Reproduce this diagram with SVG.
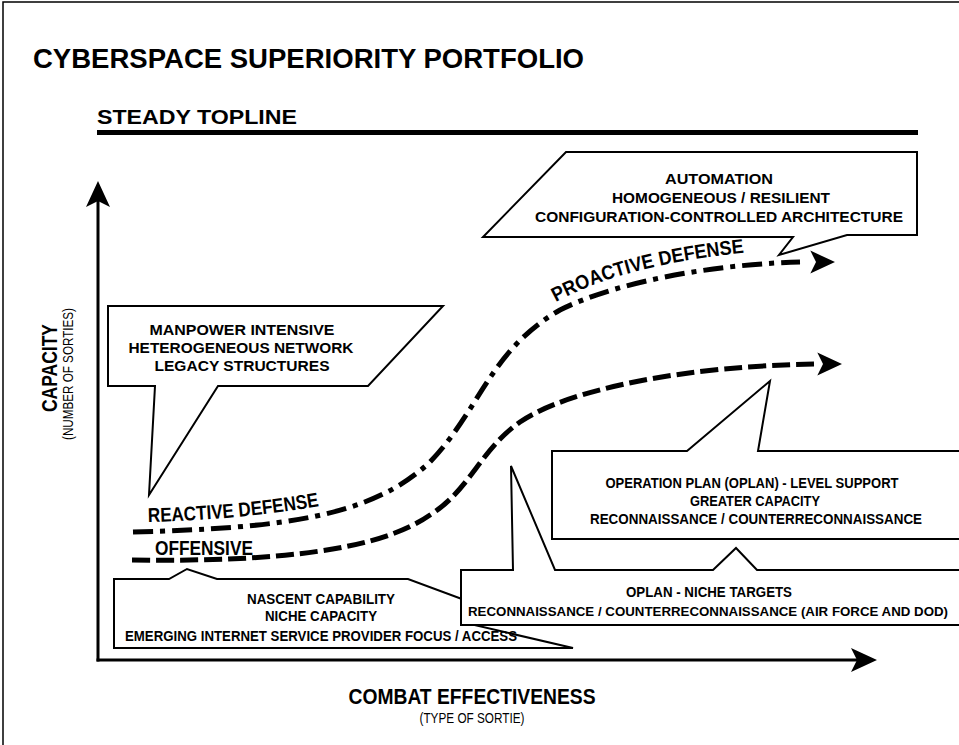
<svg xmlns="http://www.w3.org/2000/svg" xmlns:xlink="http://www.w3.org/1999/xlink" width="959" height="745" viewBox="0 0 959 745">
<style>
  .b{font-family:"Liberation Sans","Open Sans",Arial,sans-serif;font-weight:700;fill:#000}
  .r{font-family:"Liberation Sans","Open Sans",Arial,sans-serif;font-weight:400;fill:#000}
  .c{text-anchor:middle}
  .box{fill:#fff;stroke:#000;stroke-width:2;stroke-linejoin:miter}
  .axis{stroke:#000;stroke-width:3;fill:none}
  .dash{fill:none;stroke:#000;stroke-width:5;stroke-dasharray:18 6}
  .dashdot{fill:none;stroke:#000;stroke-width:5;stroke-dasharray:20 7 5 7}
  .t13{font-size:13px}
  .t14{font-size:14px}
  .t15{font-size:15px}
</style>
<defs>
  <path id="ah" d="M0,0 L-26,-12 L-20,0 L-26,12 Z" fill="#000"/>
  <path id="reactivePath" d="M148,522 Q240,520 326,505"/>
  <path id="proactivePath" d="M556,302 Q625,264 752,252"/>
</defs>

<rect width="959" height="745" fill="#fff"/>
<path d="M3,745 L3,2 L959,2" fill="none" stroke="#000" stroke-width="1.5"/>

<g id="title">
  <text class="b" x="33" y="68" font-size="27" textLength="551" lengthAdjust="spacingAndGlyphs">CYBERSPACE SUPERIORITY PORTFOLIO</text>
</g>
<g id="topline">
  <text class="b" x="97" y="124" font-size="20" textLength="200" lengthAdjust="spacingAndGlyphs">STEADY TOPLINE</text>
  <line x1="97" y1="132.5" x2="918" y2="132.5" stroke="#000" stroke-width="5"/>
</g>

<g id="axes">
  <line class="axis" x1="98" y1="661.5" x2="98" y2="200"/>
  <line class="axis" x1="96.5" y1="660" x2="860" y2="660"/>
  <use href="#ah" transform="translate(98,181) rotate(-90)"/>
  <use href="#ah" transform="translate(877,660)"/>
</g>

<g id="y-label">
  <text class="b c" transform="translate(57,368) rotate(-90)" font-size="22" textLength="88" lengthAdjust="spacingAndGlyphs">CAPACITY</text>
  <text class="r c" transform="translate(73,374) rotate(-90)" font-size="14" textLength="132" lengthAdjust="spacingAndGlyphs">(NUMBER OF SORTIES)</text>
</g>
<g id="x-label">
  <text class="b c" x="472" y="704" font-size="22" textLength="247" lengthAdjust="spacingAndGlyphs">COMBAT EFFECTIVENESS</text>
  <text class="r c" x="472" y="723" font-size="14" textLength="105" lengthAdjust="spacingAndGlyphs">(TYPE OF SORTIE)</text>
</g>

<g id="connectors">
  <path id="reactive-proactive" class="dashdot" d="M133,532 C280,528 370,518 430,462 C480,410 490,350 560,310 C620,280 720,264 800,262"/>
  <use href="#ah" transform="translate(835,262) scale(0.95)"/>
  <path id="offensive" class="dash" d="M132,560 C280,562 380,550 430,515 C470,490 480,450 520,422 C570,388 690,366 814,364"/>
  <use href="#ah" transform="translate(842,364) scale(0.95)"/>
</g>

<g id="reactive-label">
  <text class="b" font-size="20"><textPath href="#reactivePath" textLength="172" lengthAdjust="spacingAndGlyphs">REACTIVE DEFENSE</textPath></text>
</g>
<g id="offensive-label">
  <text class="b" x="155" y="555" font-size="20" textLength="98" lengthAdjust="spacingAndGlyphs">OFFENSIVE</text>
</g>
<g id="proactive-label">
  <text class="b" font-size="20"><textPath href="#proactivePath" textLength="196" lengthAdjust="spacingAndGlyphs">PROACTIVE DEFENSE</textPath></text>
</g>

<g id="callout-automation">
  <polygon class="box" points="566,152 917,152 917,235 847,235 779,255 793,237 483,237"/>
  <text class="b c t15" x="719" y="184" textLength="108" lengthAdjust="spacingAndGlyphs">AUTOMATION</text>
  <text class="b c t15" x="721" y="203" textLength="218" lengthAdjust="spacingAndGlyphs">HOMOGENEOUS / RESILIENT</text>
  <text class="b c t15" x="719" y="222" textLength="368" lengthAdjust="spacingAndGlyphs">CONFIGURATION-CONTROLLED ARCHITECTURE</text>
</g>

<g id="callout-manpower">
  <polygon class="box" points="108,306 443,306 368,386 218,386 149,495 155,386 108,386"/>
  <text class="b c t15" x="242" y="335" textLength="185" lengthAdjust="spacingAndGlyphs">MANPOWER INTENSIVE</text>
  <text class="b c t15" x="241" y="353" textLength="225" lengthAdjust="spacingAndGlyphs">HETEROGENEOUS NETWORK</text>
  <text class="b c t15" x="242" y="370.5" textLength="175" lengthAdjust="spacingAndGlyphs">LEGACY STRUCTURES</text>
</g>

<g id="callout-nascent">
  <polygon class="box" points="114,579 169,579 187,569 217,579 408,579 470,602 470,624 573,648 114,648"/>
  <text class="b c t14" x="321" y="604" textLength="148" lengthAdjust="spacingAndGlyphs">NASCENT CAPABILITY</text>
  <text class="b c t14" x="321" y="620.5" textLength="112" lengthAdjust="spacingAndGlyphs">NICHE CAPACITY</text>
  <text class="b c t14" x="321" y="641" textLength="392" lengthAdjust="spacingAndGlyphs">EMERGING INTERNET SERVICE PROVIDER FOCUS / ACCESS</text>
</g>

<g id="callout-oplan-niche">
  <polygon class="box" points="461,570 513,570 511,466 555,570 713,570 736,548 757,570 965,570 965,625 461,625"/>
  <text class="b c t14" x="709" y="597" textLength="166" lengthAdjust="spacingAndGlyphs">OPLAN - NICHE TARGETS</text>
  <text class="b c t13" x="708" y="615.5" textLength="480" lengthAdjust="spacingAndGlyphs">RECONNAISSANCE / COUNTERRECONNAISSANCE (AIR FORCE AND DOD)</text>
</g>

<g id="callout-operation-plan">
  <polygon class="box" points="552,451 687,451 770,381 758,451 965,451 965,539 552,539"/>
  <text class="b c t14" x="752" y="488" textLength="293" lengthAdjust="spacingAndGlyphs">OPERATION PLAN (OPLAN) - LEVEL SUPPORT</text>
  <text class="b c t14" x="755" y="505.5" textLength="130" lengthAdjust="spacingAndGlyphs">GREATER CAPACITY</text>
  <text class="b c t14" x="756" y="524" textLength="332" lengthAdjust="spacingAndGlyphs">RECONNAISSANCE / COUNTERRECONNAISSANCE</text>
</g>
</svg>
